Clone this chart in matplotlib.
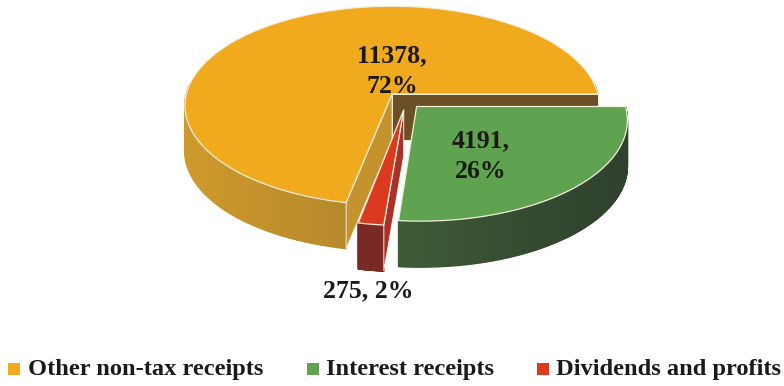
import numpy as np
import matplotlib.pyplot as plt
from matplotlib.collections import PolyCollection
from matplotlib.colors import to_rgb
from matplotlib.patches import Polygon, Rectangle

names = ['Other non-tax receipts', 'Interest receipts', 'Dividends and profits']
values = [11378, 4191, 275]

# drawing order differs from the angular order, so slices are looked up by index
top_colors = ['#f1aa1e', '#5fa24f', '#dc3a1e']
wall_left = ['#cf9a2c', '#3d5b36', '#7a2a24']
wall_right = ['#8c6c2a', '#2f402d', '#7a2a24']
start_face = ['#6b4f25', None, None]
end_face = ['#c4932d', None, '#a8322a']
edge = '#f4efdc'

# slice offsets on the pie plane
explode = [(0.008, 0.01), (0.125, -0.115), (0.063, -0.149)]

cx, cy = 390.5, 106.7
rx, ry = 207.5, 99.7
k = 0.117
depth = 46

plt.rcParams['font.family'] = ['Liberation Serif', 'DejaVu Serif']
plt.rcParams['font.weight'] = 'bold'

fig = plt.figure(figsize=(7.84, 3.86), dpi=100)
ax = fig.add_axes([0, 0, 1, 1])
ax.set_xlim(0, 784)
ax.set_ylim(386, 0)
ax.axis('off')


def project(u, v):
    # perspective view of the pie plane, unit circle stays an ellipse
    d = 1 + k * v
    return cx + rx * u * np.sqrt(1 - k * k) / d, cy - ry * (v + k) / d


# angles run counterclockwise from 3 o'clock: orange, then red, then green
total = sum(values)
spans = {}
a = 0.0
for i in [0, 2, 1]:
    spans[i] = (a, a + 360.0 * values[i] / total)
    a = spans[i][1]


def draw_slice(i):
    a0, a1 = spans[i]
    ox, oy = explode[i]
    t = np.radians(np.linspace(a0, a1, 120))
    x, y = project(np.cos(t) + ox, np.sin(t) + oy)
    ax0, ay0 = project(ox, oy)

    # outer wall, shaded across the visible width
    quads = [[(x[j], y[j]), (x[j + 1], y[j + 1]), (x[j + 1], y[j + 1] + depth), (x[j], y[j] + depth)]
             for j in range(len(x) - 1) if np.sin(t[j]) + oy < 0.12]
    if quads:
        xs = np.array([q[0][0] for q in quads])
        f = (xs - xs.min()) / max(xs.max() - xs.min(), 1)
        c0 = np.array(to_rgb(wall_left[i]))
        c1 = np.array(to_rgb(wall_right[i]))
        cols = [c0 + (c1 - c0) * s for s in f]
        ax.add_collection(PolyCollection(quads, facecolors=cols, edgecolors=cols, linewidths=1.0))

    # cut faces
    if start_face[i]:
        ax.add_patch(Polygon([(ax0, ay0), (x[0], y[0]), (x[0], y[0] + depth), (ax0, ay0 + depth)],
                             fc=start_face[i], ec=edge, lw=0.7))
    if end_face[i]:
        ax.add_patch(Polygon([(ax0, ay0), (x[-1], y[-1]), (x[-1], y[-1] + depth), (ax0, ay0 + depth)],
                             fc=end_face[i], ec=edge, lw=0.7))

    # top surface
    pts = np.column_stack([np.r_[ax0, x], np.r_[ay0, y]])
    ax.add_patch(Polygon(pts, closed=True, fc=top_colors[i], ec=edge, lw=0.9, joinstyle='round'))


for i in [0, 2, 1]:
    draw_slice(i)

# value labels
pcts = [round(100 * v / total) for v in values]
text_color = '#1c1a16'
ax.text(392, 71, f'{values[0]},\n{pcts[0]}%', ha='center', va='center', fontsize=18.5, color=text_color, linespacing=1.4)
ax.text(481, 156, f'{values[1]},\n{pcts[1]}%', ha='center', va='center', fontsize=18.5, color=text_color, linespacing=1.4)
ax.text(368, 291, f'{values[2]}, {pcts[2]}%', ha='center', va='center', fontsize=18.5, color=text_color)

# legend
key_x = [8, 307, 537]
text_x = [28, 326, 556]
for i in range(3):
    ax.add_patch(Rectangle((key_x[i], 363), 12, 12, fc=top_colors[i], ec='none'))
    ax.text(text_x[i], 369, names[i], ha='left', va='center', fontsize=17.6, color=text_color)

fig.savefig('out.png', dpi=100, facecolor='white')
